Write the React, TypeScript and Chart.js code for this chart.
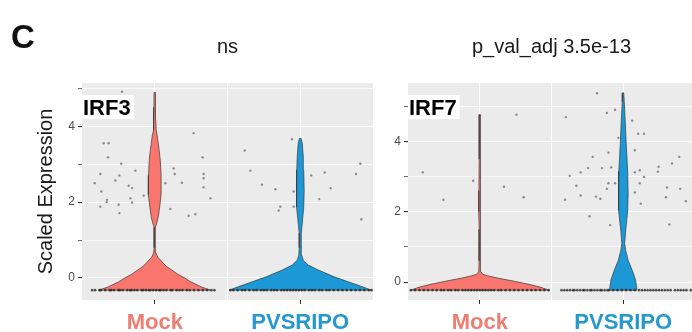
import React, { useEffect, useRef } from 'react';
import { Chart, registerables } from 'chart.js';

Chart.register(...registerables);

const FONT = '"Liberation Sans", Arial, Helvetica, sans-serif';
Chart.defaults.font.family = FONT;

// ---------- data ----------
const categories = ['Mock', 'PVSRIPO'];
const panelTitles = ['ns', 'p_val_adj 3.5e-13'];
const genes = ['IRF3', 'IRF7'];
const yTicks = [0, 1, 2, 3, 4, 5];
const xTicks = [1, 1.5, 2];

const irf3Range = [-0.58, 5.14];
const irf7Range = [-0.51, 5.66];
const irf3Zero = -0.32;
const irf7Zero = -0.23;

// violin profiles: expression level (y) and half-width (x-axis units)
const irf3MockY = [-0.32, -0.24, -0.1, 0, 0.1, 0.21, 0.32, 0.42, 0.55, 0.66, 0.8, 1.1, 1.34, 1.45, 1.6, 1.79, 2.0, 2.2, 2.4, 2.7, 3.1, 3.35, 3.55, 3.75, 3.9, 4.16, 4.5, 4.89];
const irf3MockW = [0.385, 0.323, 0.247, 0.206, 0.158, 0.117, 0.076, 0.052, 0.021, 0.008, 0.005, 0.004, 0.004, 0.014, 0.024, 0.031, 0.038, 0.043, 0.045, 0.043, 0.038, 0.031, 0.024, 0.017, 0.01, 0.007, 0.0055, 0.005];

const irf3PvsY = [-0.32, -0.24, -0.1, 0.03, 0.21, 0.34, 0.47, 0.6, 0.8, 1.18, 1.45, 1.87, 2.3, 2.84, 3.18, 3.55, 3.68];
const irf3PvsW = [0.488, 0.433, 0.33, 0.234, 0.124, 0.055, 0.021, 0.01, 0.007, 0.007, 0.014, 0.024, 0.027, 0.024, 0.021, 0.014, 0.006];

const irf7MockY = [-0.23, -0.15, -0.05, 0.05, 0.12, 0.18, 0.22, 0.3, 0.6, 1.5, 2.0, 2.3, 2.6, 3.5, 4.76];
const irf7MockW = [0.481, 0.426, 0.33, 0.206, 0.117, 0.055, 0.021, 0.007, 0.005, 0.004, 0.006, 0.008, 0.006, 0.004, 0.0035];

const irf7PvsY = [-0.23, 0.06, 0.34, 0.62, 0.9, 1.1, 1.46, 2.03, 2.5, 3.15, 3.9, 4.56, 5.13, 5.38];
const irf7PvsW = [0.096, 0.086, 0.062, 0.034, 0.017, 0.01, 0.017, 0.031, 0.034, 0.031, 0.021, 0.014, 0.007, 0.0035];

// jittered non-zero cells [x, y]
const irf3MockDots: [number, number][] = [
  [0.775, 4.91], [0.649, 3.55], [0.683, 3.55], [0.679, 3.18], [0.77, 3.01], [0.867, 2.83], [0.626, 2.74],
  [0.757, 2.7], [0.587, 2.5], [0.729, 2.57], [0.821, 2.43], [0.844, 2.37], [0.633, 2.28], [0.672, 2.06],
  [0.832, 2.1], [0.752, 1.93], [0.626, 1.88], [0.924, 2.17], [0.844, 1.99], [0.757, 1.71], [0.67, 2.0],
  [1.267, 3.82], [1.329, 3.18], [1.13, 2.89], [1.137, 2.74], [1.336, 2.74], [1.073, 2.5], [1.187, 2.51],
  [1.336, 2.63], [1.336, 2.39], [1.382, 2.1], [1.107, 1.82], [1.233, 1.64], [1.279, 1.68],
];
const irf3PvsDots: [number, number][] = [
  [1.943, 3.66], [1.618, 3.36], [1.657, 2.83], [1.737, 2.46], [1.829, 2.34], [1.863, 1.88], [1.852, 1.78],
  [1.955, 2.28], [1.955, 1.88], [2.076, 2.7], [2.168, 2.78], [2.209, 2.37], [2.131, 2.08], [2.413, 3.01],
  [2.383, 2.74], [2.42, 1.55],
];
const irf7MockDots: [number, number][] = [
  [1.256, 4.76], [0.603, 3.12], [0.954, 2.88], [1.169, 2.71], [0.747, 2.34], [1.306, 2.41],
];
const irf7PvsDots: [number, number][] = [
  [1.817, 5.37], [1.943, 4.9], [1.886, 4.81], [1.6, 4.69], [2.062, 4.59], [2.104, 4.22], [2.145, 4.22],
  [1.966, 4.1], [2.081, 3.75], [1.897, 3.68], [1.787, 3.56], [2.39, 3.56], [2.34, 3.37], [1.755, 3.24],
  [1.852, 3.24], [1.916, 3.26], [1.703, 3.12], [1.627, 3.02], [2.081, 3.12], [2.115, 3.18], [2.246, 3.28],
  [2.241, 3.14], [2.145, 2.99], [2.115, 2.81], [1.943, 2.81], [1.897, 2.81], [1.673, 2.74], [1.886, 2.65],
  [2.081, 2.55], [2.305, 2.69], [2.397, 2.65], [1.703, 2.46], [1.81, 2.43], [1.84, 2.37], [1.595, 2.34],
  [2.298, 2.41], [2.436, 2.3], [2.122, 2.23], [1.765, 1.87], [1.909, 1.62], [2.321, 1.64],
];

// jittered zero-expression cells (x positions on the floor)
const irf3MockBase = [0.57, 0.59, 0.62, 0.63, 0.66, 0.69, 0.7, 0.72, 0.75, 0.76, 0.78, 0.81, 0.83, 0.84, 0.86, 0.88, 0.91, 0.92, 0.94, 0.96, 0.97, 0.99, 1.01, 1.03, 1.04, 1.06, 1.08, 1.11, 1.12, 1.15, 1.17, 1.19, 1.22, 1.24, 1.27, 1.3, 1.33, 1.36, 1.39, 1.41];
const irf3PvsBase = [1.52, 1.54, 1.57, 1.6, 1.62, 1.65, 1.68, 1.7, 1.73, 1.75, 1.77, 1.8, 1.82, 1.84, 1.87, 1.89, 1.91, 1.93, 1.95, 1.97, 1.99, 2.01, 2.03, 2.06, 2.08, 2.1, 2.13, 2.15, 2.18, 2.2, 2.23, 2.26, 2.29, 2.32, 2.35, 2.38, 2.41, 2.44, 2.47, 2.49];
const irf7MockBase = [0.52, 0.55, 0.58, 0.61, 0.64, 0.67, 0.7, 0.73, 0.75, 0.78, 0.8, 0.83, 0.85, 0.88, 0.9, 0.92, 0.94, 0.96, 0.98, 1.0, 1.02, 1.04, 1.06, 1.08, 1.1, 1.13, 1.15, 1.18, 1.21, 1.24, 1.27, 1.3, 1.33, 1.36, 1.39, 1.42, 1.45, 1.48];
const irf7PvsBase = [1.57, 1.59, 1.61, 1.63, 1.65, 1.66, 1.68, 1.7, 1.72, 1.73, 1.75, 1.77, 1.78, 1.8, 1.82, 1.84, 1.85, 1.87, 1.89, 1.9, 1.93, 1.96, 1.99, 2.02, 2.05, 2.08, 2.11, 2.13, 2.15, 2.17, 2.19, 2.21, 2.23, 2.25, 2.27, 2.29, 2.31, 2.33, 2.36, 2.38, 2.4, 2.42, 2.44, 2.47];

// ---------- styles ----------
const MOCK_FILL = '#F8766D';
const PVS_FILL = '#1B98D5';
const MOCK_TEXT = '#EF7D70';
const PVS_TEXT = '#2598D0';
const PANEL_BG = '#EBEBEB';

function violinPoints(center: number, ys: number[], ws: number[]) {
  const right = ys.map((y, i) => ({ x: center + ws[i], y }));
  const left = ys.map((y, i) => ({ x: center - ws[i], y })).reverse();
  return [...right, ...left, right[0]];
}

const panelBg = {
  id: 'panelBg',
  beforeDraw(chart: any) {
    const { ctx, chartArea } = chart;
    ctx.save();
    ctx.fillStyle = PANEL_BG;
    ctx.fillRect(chartArea.left, chartArea.top, chartArea.right - chartArea.left, chartArea.bottom - chartArea.top);
    ctx.restore();
  },
};

const geneTag = {
  id: 'geneTag',
  afterDatasetsDraw(chart: any, _args: any, opts: any) {
    if (!opts || !opts.text) return;
    const { ctx, chartArea } = chart;
    ctx.save();
    ctx.font = `bold 22px ${FONT}`;
    const w = ctx.measureText(opts.text).width;
    ctx.fillStyle = '#FFFFFF';
    ctx.fillRect(chartArea.left, chartArea.top + 12, w + 4, 24);
    ctx.fillStyle = '#000000';
    ctx.textBaseline = 'alphabetic';
    ctx.textAlign = 'left';
    ctx.fillText(opts.text, chartArea.left + 1, chartArea.top + 32);
    ctx.restore();
  },
};

function makeConfig(i: number): any {
  const isLeft = i === 0;
  const range = isLeft ? irf3Range : irf7Range;
  const zero = isLeft ? irf3Zero : irf7Zero;
  const mockDots = isLeft ? irf3MockDots : irf7MockDots;
  const pvsDots = isLeft ? irf3PvsDots : irf7PvsDots;
  const mockBase = isLeft ? irf3MockBase : irf7MockBase;
  const pvsBase = isLeft ? irf3PvsBase : irf7PvsBase;
  const mockViolin = isLeft ? violinPoints(1, irf3MockY, irf3MockW) : violinPoints(1, irf7MockY, irf7MockW);
  const pvsViolin = isLeft ? violinPoints(2, irf3PvsY, irf3PvsW) : violinPoints(2, irf7PvsY, irf7PvsW);

  const dotStyle = { pointRadius: 1.2, pointBorderWidth: 0, pointBackgroundColor: '#8A8A8A', showLine: false, order: 0 };
  const baseStyle = { pointRadius: 1.3, pointBorderWidth: 0, pointBackgroundColor: 'rgba(40,40,40,0.8)', showLine: false, order: 0 };
  const violinStyle = { showLine: true, fill: 'shape', borderColor: '#3a3a3a', borderWidth: 0.7, pointRadius: 0, tension: 0, order: 1 };

  return {
    type: 'scatter',
    data: {
      datasets: [
        { ...dotStyle, data: mockDots.map(([x, y]) => ({ x, y })) },
        { ...dotStyle, data: pvsDots.map(([x, y]) => ({ x, y })) },
        { ...baseStyle, data: mockBase.map((x) => ({ x, y: zero })) },
        { ...baseStyle, data: pvsBase.map((x) => ({ x, y: zero })) },
        { ...violinStyle, backgroundColor: MOCK_FILL, data: mockViolin },
        { ...violinStyle, backgroundColor: PVS_FILL, data: pvsViolin },
      ],
    },
    options: {
      responsive: false,
      animation: false,
      events: [],
      layout: { padding: { left: 0, right: isLeft ? 7 : 0, top: 0, bottom: 0 } },
      plugins: {
        legend: { display: false },
        tooltip: { enabled: false },
        title: {
          display: true,
          text: panelTitles[i],
          fullSize: false,
          color: '#1a1a1a',
          font: { family: FONT, size: 20, weight: 'normal' },
          padding: { top: 35, bottom: 24 },
        },
        geneTag: { text: genes[i] },
      },
      scales: {
        x: {
          type: 'linear',
          min: 0.5,
          max: 2.5,
          afterBuildTicks: (s: any) => {
            s.ticks = xTicks.map((v) => ({ value: v }));
          },
          afterFit: (s: any) => {
            s.height = 32;
          },
          border: { display: false },
          grid: {
            color: '#FFFFFF',
            lineWidth: 1,
            tickLength: 4,
            tickColor: (c: any) => (c.tick && c.tick.value === 1.5 ? 'rgba(0,0,0,0)' : '#333333'),
          },
          ticks: {
            autoSkip: false,
            maxRotation: 0,
            minRotation: 0,
            padding: 6,
            font: { family: FONT, size: 22, weight: 'bold' },
            color: (c: any) => (c.tick && c.tick.value === 1 ? MOCK_TEXT : PVS_TEXT),
            callback: (v: number) => (v === 1 ? categories[0] : v === 2 ? categories[1] : ''),
          },
        },
        y: {
          type: 'linear',
          min: range[0],
          max: range[1],
          afterBuildTicks: (s: any) => {
            s.ticks = yTicks.map((v) => ({ value: v }));
          },
          afterFit: (s: any) => {
            s.width = isLeft ? 82 : 28;
          },
          border: { display: false },
          grid: {
            color: '#FFFFFF',
            lineWidth: (c: any) => (c.tick && c.tick.value % 2 === 0 ? 1.1 : 0.7),
            tickLength: 4,
            tickColor: '#333333',
          },
          ticks: {
            padding: 3,
            color: '#4D4D4D',
            font: { family: FONT, size: 12 },
            callback: (v: number) => (v % 2 === 0 ? String(v) : ''),
          },
          title: {
            display: isLeft,
            text: 'Scaled Expression',
            color: '#1a1a1a',
            font: { family: FONT, size: 20, weight: 'normal' },
            padding: { top: 34, bottom: 0 },
          },
        },
      },
    },
    plugins: [panelBg, geneTag],
  };
}

export default function App() {
  const leftRef = useRef<HTMLCanvasElement>(null);
  const rightRef = useRef<HTMLCanvasElement>(null);

  useEffect(() => {
    const c1 = new Chart(leftRef.current as HTMLCanvasElement, makeConfig(0));
    const c2 = new Chart(rightRef.current as HTMLCanvasElement, makeConfig(1));
    return () => {
      c1.destroy();
      c2.destroy();
    };
  }, []);

  return (
    <div style={{ position: 'absolute', left: 0, top: 0, width: 692, height: 332, overflow: 'hidden', background: '#FFFFFF' }}>
      <canvas ref={leftRef} width={380} height={332} style={{ position: 'absolute', left: 0, top: 0, width: 380, height: 332 }} />
      <canvas ref={rightRef} width={319} height={332} style={{ position: 'absolute', left: 380, top: 0, width: 319, height: 332 }} />
      <div style={{ position: 'absolute', left: 11, top: 20, font: `bold 33px ${FONT}`, lineHeight: '33px', color: '#111111' }}>C</div>
    </div>
  );
}
